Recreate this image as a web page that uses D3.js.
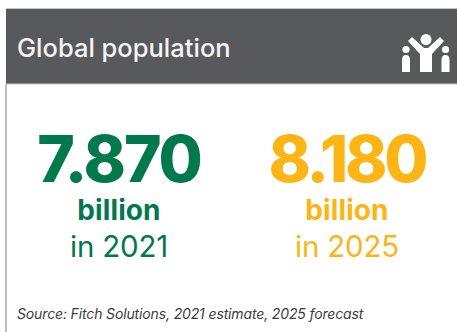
<!DOCTYPE html>
<html>
<head>
<meta charset="utf-8">
<script src="https://cdn.jsdelivr.net/npm/d3@7"></script>
<style>
html,body{margin:0;padding:0;background:#fff;overflow:hidden}
svg{display:block}
text{font-family:Inter,"Noto Sans",sans-serif}
</style>
</head>
<body>
<svg id="chart" width="457" height="332"></svg>
<script>
const years = [2021, 2025];
const populations = ["7.870", "8.180"];
const unitLabel = "billion";
const yearPrefix = "in ";
const seriesColors = ["#02784d", "#fdb515"];
const titleText = "Global population";
const sourceText = "Source: Fitch Solutions, 2021 estimate, 2025 forecast";
const figureTracking = [-2, -3.2];

const svg = d3.select("#chart");

// Header band and panel edges
svg.append("rect").attr("x", 6).attr("y", 9).attr("width", 451).attr("height", 75).attr("fill", "#58595b");
svg.append("line").attr("x1", 6).attr("x2", 457).attr("y1", 8.5).attr("y2", 8.5).attr("stroke", "#c4c4c4");
svg.append("line").attr("x1", 6).attr("x2", 457).attr("y1", 84).attr("y2", 84).attr("stroke", "#c4c4c4");
svg.append("line").attr("x1", 6).attr("x2", 6).attr("y1", 84).attr("y2", 332).attr("stroke", "#a8a8a8").attr("stroke-width", 1.5);

svg.append("text").attr("x", 17).attr("y", 57).attr("fill", "#f4f4f4")
  .attr("font-size", 25.5).attr("font-weight", 500).attr("letter-spacing", 0).text(titleText);

// People icon: an adult with raised arms between two children
const icon = svg.append("g").attr("fill", "#fff");
icon.append("circle").attr("cx", 426).attr("cy", 39.5).attr("r", 5.5);
icon.append("path").attr("d", "M408 41 L412 37 L424 48 L428 48 L440 37 L444 41 L432 54 L432 72 L420 72 L420 54 Z");
icon.append("circle").attr("cx", 406).attr("cy", 49.5).attr("r", 3.6);
icon.append("path").attr("d", "M402 72 L402 60 Q402 55 406 55 Q410 55 410 60 L410 72 Z");
icon.append("circle").attr("cx", 445.5).attr("cy", 49.5).attr("r", 3.6);
icon.append("path").attr("d", "M441.5 72 L441.5 60 Q441.5 55 445.5 55 Q449.5 55 449.5 60 L449.5 72 Z");

// One column per year, centred on a position of the point scale
const x = d3.scalePoint().domain(years).range([119, 347]);
const col = svg.selectAll("g.col").data(years).join("g").attr("class", "col")
  .attr("fill", (d, i) => seriesColors[i])
  .attr("text-anchor", "middle");

col.append("text").attr("x", d => x(d)).attr("y", 182)
  .attr("font-size", 64).attr("font-weight", 800)
  .attr("letter-spacing", (d, i) => figureTracking[i])
  .text((d, i) => populations[i]);
col.append("text").attr("x", d => x(d)).attr("y", 219.5)
  .attr("font-size", 28).attr("font-weight", 700).attr("letter-spacing", 0.1)
  .text(unitLabel);
col.append("text").attr("x", d => x(d)).attr("y", 257)
  .attr("font-size", 29.5).attr("font-weight", 400).attr("letter-spacing", -0.2)
  .text(d => yearPrefix + d);

svg.append("text").attr("x", 17).attr("y", 319).attr("fill", "#3c3c3c")
  .attr("font-size", 14).attr("font-style", "italic").attr("letter-spacing", -0.14).text(sourceText);
</script>
</body>
</html>
